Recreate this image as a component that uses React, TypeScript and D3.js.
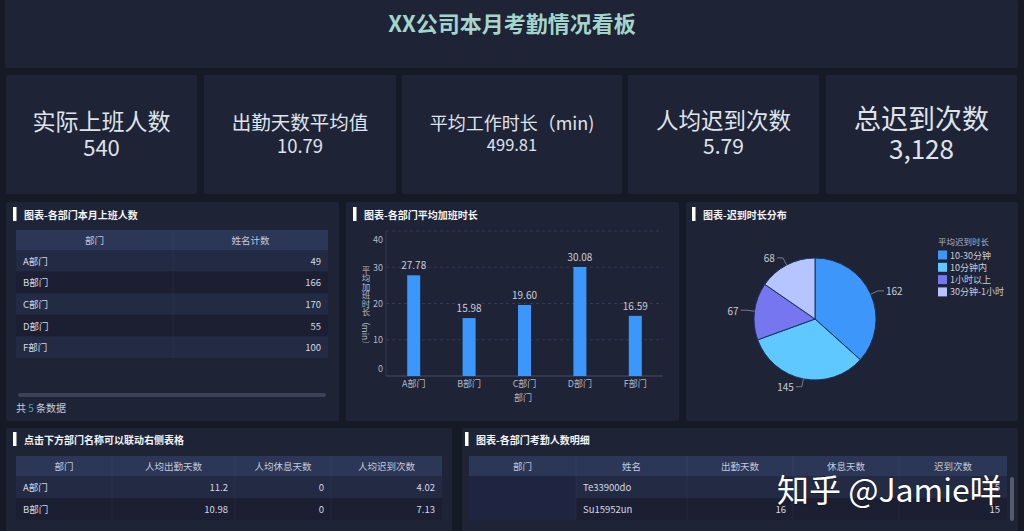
import React from 'react';
import * as d3 from 'd3';

const FONT = '"Noto Sans CJK SC", "Noto Sans", sans-serif';

// ---------------- data ----------------
const pageTitle = 'XX公司本月考勤情况看板';
const kpiTitles = ['实际上班人数', '出勤天数平均值', '平均工作时长（min)', '人均迟到次数', '总迟到次数'];
const kpiValues = ['540', '10.79', '499.81', '5.79', '3,128'];

const panelTitles = [
  '图表-各部门本月上班人数',
  '图表-各部门平均加班时长',
  '图表-迟到时长分布',
  '点击下方部门名称可以联动右侧表格',
  '图表-各部门考勤人数明细',
];

const deptNames = ['A部门', 'B部门', 'C部门', 'D部门', 'F部门'];
const deptHeadcount = [49, 166, 170, 55, 100];
const headcountHeaders = ['部门', '姓名计数'];

const overtimeMinutes = [27.78, 15.98, 19.6, 30.08, 16.59];
const overtimeTicks = [0, 10, 20, 30, 40];
const overtimeYTitle = '平均加班时长（min）';
const overtimeXTitle = '部门';

const lateLegendTitle = '平均迟到时长';
const lateBuckets = ['10-30分钟', '10分钟内', '1小时以上', '30分钟-1小时'];
const lateCounts = [162, 145, 67, 68];

const summaryHeaders = ['部门', '人均出勤天数', '人均休息天数', '人均迟到次数'];
const summaryDepts = ['A部门', 'B部门'];
const summaryAttendDays = ['11.2', '10.98'];
const summaryRestDays = ['0', '0'];
const summaryLateTimes = ['4.02', '7.13'];

const detailHeaders = ['部门', '姓名', '出勤天数', '休息天数', '迟到次数'];
const detailNames = ['Te33900do', 'Su15952un'];
const detailAttendDays = ['', '16'];
const detailRestDays = ['', ''];
const detailLateTimes = ['5', '15'];

const watermark = '知乎 @Jamie咩';

// ---------------- styles ----------------
const COL = {
  page: '#161a27',
  panel: '#1f2336',
  header: '#2c3757',
  rowA: '#222a44',
  rowB: '#1b1f31',
  text: '#d6dae5',
  headText: '#c3c9da',
  title: '#a3d5cc',
  kpi: '#dfe3ec',
  axis: '#4a4f66',
  grid: '#353a50',
  tick: '#b4b9c8',
  bar: '#3b97fb',
};
const pieColors = ['#3d97fb', '#5ec8ff', '#7676f0', '#b6c4ff'];

type Cell = { text: string; align: 'left' | 'right' | 'center' };

function Table(props: {
  cols: number[];
  y: number;
  headH: number;
  rowH: number;
  headers: string[];
  rows: Cell[][];
  mergeFirst?: boolean;
}) {
  const { cols, y, headH, rowH, headers, rows, mergeFirst } = props;
  const x0 = cols[0];
  const x1 = cols[cols.length - 1];
  return (
    <g fontFamily={FONT} fontSize={9.5}>
      <rect x={x0} y={y} width={x1 - x0} height={headH} fill={COL.header} />
      {headers.map((h, i) => (
        <text key={i} x={(cols[i] + cols[i + 1]) / 2} y={y + headH / 2} textAnchor="middle" dominantBaseline="central" fill={COL.headText}>
          {h}
        </text>
      ))}
      {rows.map((r, ri) => {
        const ry = y + headH + ri * rowH;
        return (
          <g key={ri}>
            <rect x={x0} y={ry} width={x1 - x0} height={rowH} fill={ri % 2 === 0 ? COL.rowA : COL.rowB} />
            {r.map((c, ci) => {
              if (!c.text) return null;
              const tx = c.align === 'left' ? cols[ci] + 7 : c.align === 'right' ? cols[ci + 1] - 7 : (cols[ci] + cols[ci + 1]) / 2;
              return (
                <text key={ci} x={tx} y={ry + rowH / 2} dominantBaseline="central" textAnchor={c.align === 'left' ? 'start' : c.align === 'right' ? 'end' : 'middle'} fill={COL.text}>
                  {c.text}
                </text>
              );
            })}
          </g>
        );
      })}
      {mergeFirst && (
        <rect x={cols[0]} y={y + headH} width={cols[1] - cols[0]} height={rows.length * rowH} fill="#1f2540" />
      )}
      {cols.slice(1, -1).map((cx, i) => (
        <line key={i} x1={cx} x2={cx} y1={y} y2={y + headH + rows.length * rowH} stroke="#ffffff" strokeOpacity={0.04} />
      ))}
    </g>
  );
}

function PanelTitle({ x, y, text }: { x: number; y: number; text: string }) {
  return (
    <g>
      <rect x={x} y={y - 7} width={3.5} height={14} fill="#ffffff" />
      <text x={x + 11} y={y} dominantBaseline="central" fill="#f2f4f8" fontSize={10} fontWeight="bold" fontFamily={FONT}>
        {text}
      </text>
    </g>
  );
}

export default function App() {
  // KPI layout
  const kpiBoxes = [
    [6, 197],
    [204, 396],
    [402, 622],
    [628, 819],
    [826, 1017],
  ];
  const kpiTitleSize = [23, 19.5, 18, 22.5, 27];
  const kpiValueSize = [22, 18.5, 16.5, 21, 26];
  const kpiTitleY = [120, 121, 122, 119, 117];
  const kpiValueY = [146, 145, 144, 145, 147];

  // bar chart
  const xBand = d3.scaleBand<string>().domain(deptNames).range([386, 663]).padding(0);
  const yLin = d3.scaleLinear().domain([0, 40]).range([376, 231]);
  const barW = 13;

  // pie
  const cx = 815;
  const cy = 319;
  const R = 61;
  const pieGen = d3.pie<number>().sort(null).value((d) => d);
  const arcs = pieGen(lateCounts);
  const arcGen = d3.arc<d3.PieArcDatum<number>>().innerRadius(0).outerRadius(R);

  return (
    <svg width={1024} height={531} style={{ position: 'absolute', left: 0, top: 0, display: 'block' }} fontFamily={FONT}>
      <rect x={0} y={0} width={1024} height={531} fill={COL.page} />

      {/* title */}
      <rect x={5} y={0} width={1013} height={68} rx={2} fill={COL.panel} />
      <text x={512} y={22} textAnchor="middle" dominantBaseline="central" fontSize={22} fontWeight="bold" fill={COL.title}>
        {pageTitle}
      </text>

      {/* KPI cards */}
      {kpiBoxes.map(([a, b], i) => (
        <g key={i}>
          <rect x={a} y={75} width={b - a} height={119} rx={2} fill={COL.panel} />
          <text x={(a + b) / 2} y={kpiTitleY[i]} textAnchor="middle" dominantBaseline="central" fontSize={kpiTitleSize[i]} fill={COL.kpi}>
            {kpiTitles[i]}
          </text>
          <text x={(a + b) / 2} y={kpiValueY[i]} textAnchor="middle" dominantBaseline="central" fontSize={kpiValueSize[i]} fill={COL.kpi}>
            {kpiValues[i]}
          </text>
        </g>
      ))}

      {/* middle panels */}
      <rect x={6} y={202} width={333} height={219} rx={2} fill={COL.panel} />
      <rect x={346} y={202} width={333} height={219} rx={2} fill={COL.panel} />
      <rect x={686} y={202} width={332} height={219} rx={2} fill={COL.panel} />

      {/* panel 1: headcount table */}
      <PanelTitle x={13} y={214} text={panelTitles[0]} />
      <Table
        cols={[16, 173, 328]}
        y={230}
        headH={20}
        rowH={21.6}
        headers={headcountHeaders}
        rows={deptNames.map((d, i) => [
          { text: d, align: 'left' },
          { text: String(deptHeadcount[i]), align: 'right' },
        ])}
      />
      <rect x={18} y={393} width={308} height={4} rx={2} fill="#3b4157" />
      <text x={16} y={407} dominantBaseline="central" fontSize={10} fill="#c8ccd8">
        共 <tspan fill="#3aa6c4">{deptNames.length}</tspan> 条数据
      </text>

      {/* panel 2: bar chart */}
      <PanelTitle x={353} y={214} text={panelTitles[1]} />
      {overtimeTicks.map((t) => (
        <g key={t}>
          {t > 0 && (
            <line x1={386} x2={663} y1={yLin(t)} y2={yLin(t)} stroke={COL.grid} strokeDasharray="3,3" />
          )}
          <text
            x={383}
            y={yLin(t) + (t === 40 ? 8 : t === 0 ? -8 : 0)}
            textAnchor="end"
            dominantBaseline="central"
            fontSize={9}
            fill={COL.tick}
          >
            {t}
          </text>
        </g>
      ))}
      <line x1={386} x2={386} y1={231} y2={376} stroke={COL.grid} />
      <line x1={386} x2={663} y1={376} y2={376} stroke={COL.axis} />
      {deptNames.map((d, i) => {
        const bx = (xBand(d) as number) + xBand.bandwidth() / 2;
        const v = overtimeMinutes[i];
        return (
          <g key={d}>
            <rect x={bx - barW / 2} y={yLin(v)} width={barW} height={yLin(0) - yLin(v)} fill={COL.bar} />
            <text x={bx} y={yLin(v) - 6} textAnchor="middle" fontSize={10} fill="#c9cedb">
              {v.toFixed(2)}
            </text>
            <text x={bx} y={383} textAnchor="middle" dominantBaseline="central" fontSize={9} fill={COL.tick}>
              {d}
            </text>
          </g>
        );
      })}
      <text x={523} y={397} textAnchor="middle" dominantBaseline="central" fontSize={9} fill={COL.tick}>
        {overtimeXTitle}
      </text>
      <text x={366} y={307} textAnchor="middle" fontSize={8.5} fill={COL.tick} style={{ writingMode: 'vertical-rl' as any }}>
        {overtimeYTitle}
      </text>

      {/* panel 3: pie */}
      <PanelTitle x={692} y={214} text={panelTitles[2]} />
      <g transform={`translate(${cx},${cy})`}>
        {arcs.map((a, i) => (
          <path key={i} d={arcGen(a) as string} fill={pieColors[i]} stroke="#1a3258" strokeWidth={1} />
        ))}
      </g>
      {arcs.map((a, i) => {
        const mid = (a.startAngle + a.endAngle) / 2;
        const sx = Math.sin(mid);
        const sy = -Math.cos(mid);
        const p1 = [cx + R * sx, cy + R * sy];
        const p2 = [cx + (R + 8) * sx, cy + (R + 8) * sy];
        const dir = sx >= 0 ? 1 : -1;
        const p3 = [p2[0] + 6 * dir, p2[1]];
        return (
          <g key={i}>
            <polyline points={`${p1} ${p2} ${p3}`} fill="none" stroke="#8a90a4" strokeWidth={0.8} />
            <text x={p3[0] + 2 * dir} y={p3[1]} textAnchor={dir > 0 ? 'start' : 'end'} dominantBaseline="central" fontSize={10} fill="#c8cdd8">
              {lateCounts[i]}
            </text>
          </g>
        );
      })}
      <text x={938} y={241} dominantBaseline="central" fontSize={8.5} fill="#aeb4c4">
        {lateLegendTitle}
      </text>
      {lateBuckets.map((b, i) => (
        <g key={b}>
          <rect x={938} y={255 + i * 12.3 - 4.5} width={9} height={9} fill={pieColors[i]} />
          <text x={950} y={255 + i * 12.3} dominantBaseline="central" fontSize={9} fill="#c8cdd8">
            {b}
          </text>
        </g>
      ))}

      {/* bottom panels */}
      <rect x={6} y={428} width={446} height={110} rx={2} fill={COL.panel} />
      <rect x={462} y={428} width={556} height={110} rx={2} fill={COL.panel} />

      <PanelTitle x={13} y={439} text={panelTitles[3]} />
      <Table
        cols={[16, 112, 235, 331, 442]}
        y={456}
        headH={20}
        rowH={22}
        headers={summaryHeaders}
        rows={summaryDepts.map((d, i) => [
          { text: d, align: 'left' },
          { text: summaryAttendDays[i], align: 'right' },
          { text: summaryRestDays[i], align: 'right' },
          { text: summaryLateTimes[i], align: 'right' },
        ])}
      />

      <PanelTitle x={465} y={439} text={panelTitles[4]} />
      <Table
        cols={[469, 576, 687, 793, 899, 1007]}
        y={456}
        headH={20}
        rowH={22}
        headers={detailHeaders}
        mergeFirst
        rows={detailNames.map((n, i) => [
          { text: '', align: 'left' },
          { text: n, align: 'left' },
          { text: detailAttendDays[i], align: 'right' },
          { text: detailRestDays[i], align: 'right' },
          { text: detailLateTimes[i], align: 'right' },
        ])}
      />
      <rect x={1010} y={477} width={4} height={44} rx={2} fill="#555b6e" />

      {/* watermark */}
      <text x={777} y={488} dominantBaseline="central" fontSize={32} fill="#ffffff" style={{ paintOrder: 'stroke' }} stroke="#000000" strokeOpacity={0.25} strokeWidth={1.5}>
        {watermark}
      </text>
    </svg>
  );
}
